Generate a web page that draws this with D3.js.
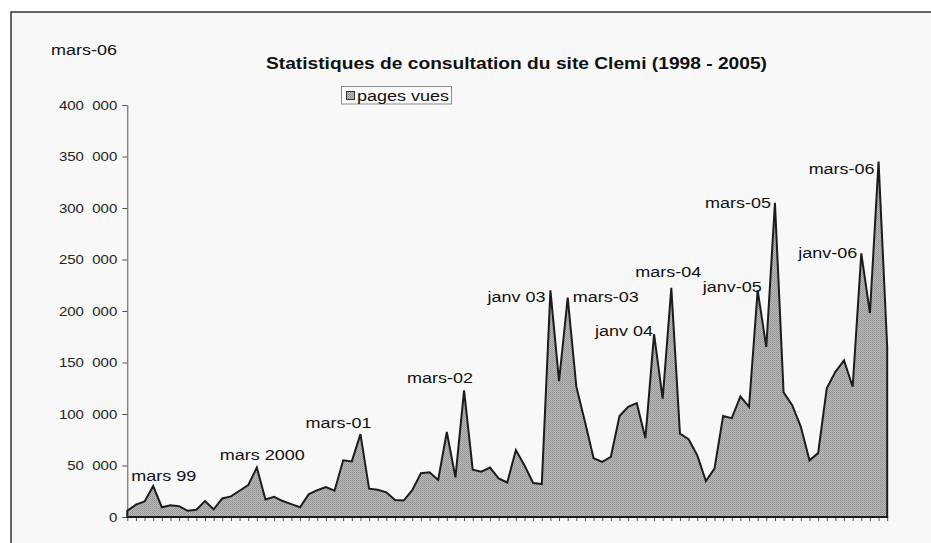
<!DOCTYPE html>
<html>
<head>
<meta charset="utf-8">
<script src="https://cdn.jsdelivr.net/npm/d3@7/dist/d3.min.js"></script>
<style>
    body { margin: 0; background: #ffffff; }
    svg { display: block; }
</style>
</head>
<body>
<div id="chart"></div>
<script>
// monthly categories, Dec 1998 -> Apr 2006
var months = ['déc-98',
    'janv-99', 'févr-99', 'mars-99', 'avr-99', 'mai-99', 'juin-99', 'juil-99', 'août-99', 'sept-99', 'oct-99', 'nov-99', 'déc-99',
    'janv-00', 'févr-00', 'mars-00', 'avr-00', 'mai-00', 'juin-00', 'juil-00', 'août-00', 'sept-00', 'oct-00', 'nov-00', 'déc-00',
    'janv-01', 'févr-01', 'mars-01', 'avr-01', 'mai-01', 'juin-01', 'juil-01', 'août-01', 'sept-01', 'oct-01', 'nov-01', 'déc-01',
    'janv-02', 'févr-02', 'mars-02', 'avr-02', 'mai-02', 'juin-02', 'juil-02', 'août-02', 'sept-02', 'oct-02', 'nov-02', 'déc-02',
    'janv-03', 'févr-03', 'mars-03', 'avr-03', 'mai-03', 'juin-03', 'juil-03', 'août-03', 'sept-03', 'oct-03', 'nov-03', 'déc-03',
    'janv-04', 'févr-04', 'mars-04', 'avr-04', 'mai-04', 'juin-04', 'juil-04', 'août-04', 'sept-04', 'oct-04', 'nov-04', 'déc-04',
    'janv-05', 'févr-05', 'mars-05', 'avr-05', 'mai-05', 'juin-05', 'juil-05', 'août-05', 'sept-05', 'oct-05', 'nov-05', 'déc-05',
    'janv-06', 'févr-06', 'mars-06', 'avr-06'];

// pages vues
var pagesVues = [6000,
    12000, 15000, 30000, 9500, 11500, 10500, 6000, 7000, 15500, 7500, 18000, 20000,
    25500, 31000, 48000, 17000, 19500, 15500, 12500, 9500, 22000, 26000, 29000, 25500,
    55000, 54000, 80500, 27500, 26500, 24000, 16500, 16000, 26000, 42500, 43500, 36000,
    82500, 38500, 123000, 46000, 44000, 48000, 37500, 33500, 65000, 50000, 33000, 32000,
    220000, 132000, 213000, 126500, 92500, 57000, 53500, 58500, 98000, 107000, 110500, 76500,
    177500, 115000, 222500, 81000, 75500, 60000, 35000, 47000, 98000, 96000, 117000, 107000,
    220000, 165000, 305000, 121000, 108500, 87500, 55000, 62000, 125000, 141000, 152000, 126500,
    256000, 198000, 345000, 165000];

var yTicks = [0, 50000, 100000, 150000, 200000, 250000, 300000, 350000, 400000];

// annotated peaks
var peakLabels = ['mars 99', 'mars 2000', 'mars-01', 'mars-02', 'janv 03', 'mars-03',
    'janv 04', 'mars-04', 'janv-05', 'mars-05', 'janv-06', 'mars-06'];
var peakMonths = ['mars-99', 'mars-00', 'mars-01', 'mars-02', 'janv-03', 'mars-03',
    'janv-04', 'mars-04', 'janv-05', 'mars-05', 'janv-06', 'mars-06'];

var title = 'Statistiques de consultation du site Clemi (1998 - 2005)';
var seriesName = 'pages vues';
var cornerNote = 'mars-06';

(function() {
    var W = 931, H = 543;
    var font = "Arial, 'Liberation Sans', sans-serif";
    var sx = 1.2; // the scan is a bit stretched sideways

    var svg = d3.select('#chart').append('svg')
                .attr('width', W)
                .attr('height', H);

    // stipple fill like the printed area
    var pat = svg.append('defs').append('pattern')
                .attr('id', 'stipple')
                .attr('width', 2).attr('height', 2)
                .attr('patternUnits', 'userSpaceOnUse');
    pat.append('rect').attr('width', 2).attr('height', 2).style('fill', '#b8b8b8');
    pat.append('rect').attr('width', 1).attr('height', 1).style('fill', '#929292');
    pat.append('rect').attr('x', 1).attr('y', 1).attr('width', 1).attr('height', 1).style('fill', '#9e9e9e');

    // page frame (cut off at right and bottom)
    svg.append('rect')
        .attr('x', 11).attr('y', 12)
        .attr('width', W).attr('height', H)
        .style('fill', '#f8f8f8')
        .style('stroke', '#333')
        .style('stroke-width', 1.5);

    function txt(g, x, y, s, size, anchor, weight) {
        return g.append('text')
                .text(s)
                .attr('transform', 'translate(' + x + ',' + y + ') scale(' + sx + ',1)')
                .style('font-family', font)
                .style('font-size', size + 'px')
                .style('font-weight', weight || 400)
                .style('fill', '#111')
                .attr('text-anchor', anchor || 'start');
    }

    var left = 127.3, right = 887.2, top = 105, bottom = 517;

    var x = d3.scalePoint()
                .domain(months)
                .range([left, right]);
    var y = d3.scaleLinear()
                .domain([0, 400000])
                .range([bottom, top]);

    var fr = d3.formatLocale({decimal: ',', thousands: '\u00a0', grouping: [3], currency: ['', '']});
    var fmt = fr.format(',');

    // y axis
    var yAxis = d3.axisLeft(y)
                .tickValues(yTicks)
                .tickSize(5)
                .tickSizeOuter(0)
                .tickFormat(function(d) { return fmt(d).replace('\u00a0', '\u00a0\u00a0'); });
    var gy = svg.append('g')
                .attr('transform', 'translate(' + left + ',0)')
                .call(yAxis);
    gy.select('.domain').style('stroke', '#555');
    gy.selectAll('line').style('stroke', '#555');
    gy.selectAll('text')
        .attr('x', null).attr('dy', '0.35em')
        .attr('transform', 'translate(-10,0) scale(' + sx + ',1)')
        .style('font-family', font)
        .style('font-size', '12.5px')
        .style('fill', '#222');

    // x axis ticks only
    var xAxis = d3.axisBottom(x)
                .tickSize(4)
                .tickSizeOuter(0)
                .tickFormat('');
    var gx = svg.append('g')
                .attr('transform', 'translate(0,' + bottom + ')')
                .call(xAxis);
    gx.select('.domain').remove();
    gx.selectAll('line').style('stroke', '#555');

    // area
    var data = months.map(function(m, i) { return {m: m, v: pagesVues[i]}; });
    var area = d3.area()
                .x(function(d) { return x(d.m); })
                .y0(y(0))
                .y1(function(d) { return y(d.v); });
    svg.append('path')
        .datum(data)
        .attr('d', area)
        .style('fill', 'url(#stipple)')
        .style('stroke', '#1c1c1c')
        .style('stroke-width', 2)
        .style('stroke-linejoin', 'miter');

    // peak labels: [dx, dy, anchor] from the peak point
    var pos = {
        'mars 99': [-22, -5, 'start'],
        'mars 2000': [-37, -8, 'start'],
        'mars-01': [-55, -6, 'start'],
        'mars-02': [-57, -7, 'start'],
        'janv 03': [-5, 12, 'end'],
        'mars-03': [5, 4, 'start'],
        'janv 04': [-1, 2, 'end'],
        'mars-04': [-36, -11, 'start'],
        'janv-05': [4, 2, 'end'],
        'mars-05': [-4, 5, 'end'],
        'janv-06': [-4, 5, 'end'],
        'mars-06': [-4, 12, 'end']
    };
    peakLabels.forEach(function(l, i) {
        var m = peakMonths[i];
        var v = pagesVues[months.indexOf(m)];
        var p = pos[l];
        txt(svg, x(m) + p[0], y(v) + p[1], l, 15, p[2]);
    });

    // title, note, legend
    txt(svg, 266, 69, title, 16, 'start', 700);
    txt(svg, 51, 55, cornerNote, 15);

    var lg = svg.append('g');
    lg.append('rect')
        .attr('x', 341.5).attr('y', 86.5)
        .attr('width', 110).attr('height', 17.5)
        .style('fill', '#fbfbfb')
        .style('stroke', '#8a8a8a');
    lg.append('rect')
        .attr('x', 346.5).attr('y', 91.5)
        .attr('width', 8).attr('height', 8)
        .style('fill', 'url(#stipple)')
        .style('stroke', '#333');
    txt(lg, 357, 101, seriesName, 15);
}());
</script>
</body>
</html>
